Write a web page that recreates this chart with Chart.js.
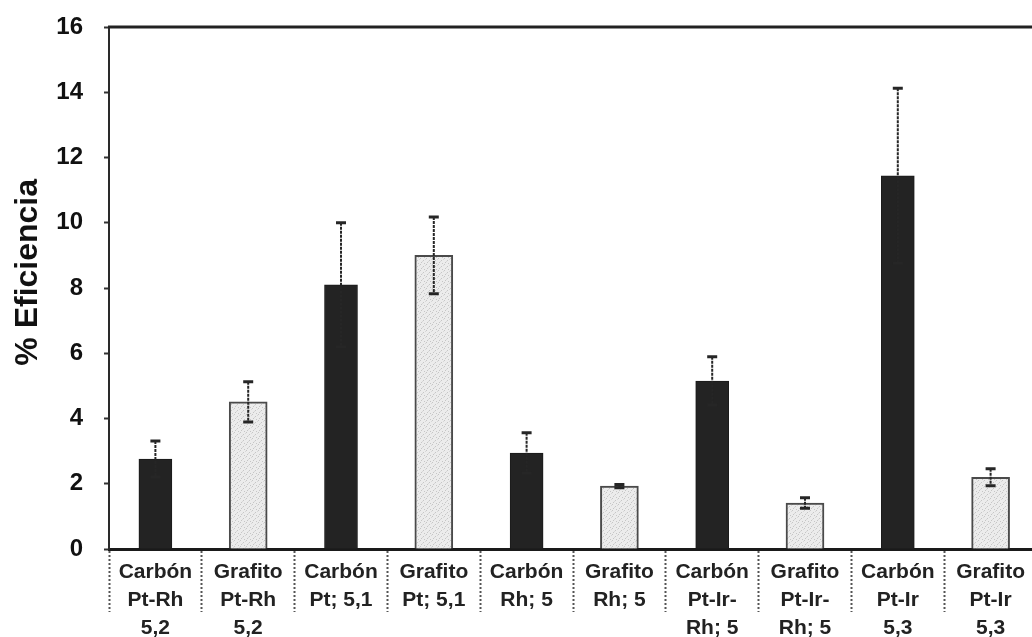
<!DOCTYPE html>
<html lang="es">
<head>
<meta charset="utf-8">
<title>% Eficiencia por soporte y catalizador</title>
<script src="https://cdn.jsdelivr.net/npm/chart.js@4.4.1/dist/chart.umd.min.js"></script>
<style>
  html, body { margin: 0; padding: 0; background: #fff; overflow: hidden; }
  #wrap { position: relative; width: 1037px; height: 637px; }
</style>
</head>
<body>
<div id="wrap"><canvas id="grafico"></canvas></div>
<script>
// Categorías del eje x (soporte / catalizador / carga)
const categorias = [
  ['Carbón', 'Pt-Rh', '5,2'],
  ['Grafito', 'Pt-Rh', '5,2'],
  ['Carbón', 'Pt; 5,1'],
  ['Grafito', 'Pt; 5,1'],
  ['Carbón', 'Rh; 5'],
  ['Grafito', 'Rh; 5'],
  ['Carbón', 'Pt-Ir-', 'Rh; 5'],
  ['Grafito', 'Pt-Ir-', 'Rh; 5'],
  ['Carbón', 'Pt-Ir', '5,3'],
  ['Grafito', 'Pt-Ir', '5,3']
];

// Soporte de cada barra
const soporte = ['Carbón', 'Grafito', 'Carbón', 'Grafito', 'Carbón',
                 'Grafito', 'Carbón', 'Grafito', 'Carbón', 'Grafito'];

// % de eficiencia medio y su desviación
const eficiencia = [2.76, 4.51, 8.10, 9.00, 2.94, 1.93, 5.15, 1.41, 11.44, 2.20];
const desviacion = [0.55, 0.62, 1.90, 1.18, 0.62, 0.05, 0.74, 0.16, 2.68, 0.26];

// Eje y
const yMin = 0, yMax = 16, yPaso = 2;
const tituloY = '% Eficiencia';

const fuente = '"Liberation Sans", Arial, Helvetica, sans-serif';

// Relleno punteado gris claro para las barras de grafito
function tramaGrafito() {
  const c = document.createElement('canvas');
  c.width = 6; c.height = 6;
  const g = c.getContext('2d');
  g.fillStyle = '#ececec';
  g.fillRect(0, 0, 6, 6);
  g.fillStyle = '#c6c6c6';
  g.fillRect(0, 0, 1, 1);
  g.fillRect(3, 2, 1, 1);
  g.fillRect(1, 4, 1, 1);
  g.fillRect(4, 5, 1, 1);
  g.fillStyle = '#d8d8d8';
  g.fillRect(5, 1, 1, 1);
  g.fillRect(2, 3, 1, 1);
  return g.createPattern(c, 'repeat');
}

const soloDe = s => eficiencia.map((v, i) => soporte[i] === s ? v : null);

// Barras de error (media ± desviación)
const barrasError = {
  id: 'barrasError',
  afterDatasetsDraw(chart) {
    const ctx = chart.ctx;
    const xs = chart.scales.x, ys = chart.scales.y;
    ctx.save();
    eficiencia.forEach((v, i) => {
      const d = desviacion[i];
      const x = xs.getPixelForValue(i);
      const yAlto = ys.getPixelForValue(v + d);
      const yBajo = ys.getPixelForValue(Math.max(0, v - d));
      ctx.strokeStyle = '#262626';
      ctx.lineWidth = 2;
      ctx.setLineDash([3, 1]);
      ctx.beginPath();
      ctx.moveTo(x, yAlto);
      ctx.lineTo(x, yBajo);
      ctx.stroke();
      ctx.setLineDash([]);
      ctx.lineWidth = 3;
      ctx.beginPath();
      ctx.moveTo(x - 5, yAlto); ctx.lineTo(x + 5, yAlto);
      ctx.moveTo(x - 5, yBajo); ctx.lineTo(x + 5, yBajo);
      ctx.stroke();
    });
    ctx.restore();
  }
};

// Línea superior del marco y título vertical del eje y
const marcoYTitulo = {
  id: 'marcoYTitulo',
  afterDraw(chart) {
    const { ctx, chartArea } = chart;
    ctx.save();
    ctx.strokeStyle = '#222';
    ctx.lineWidth = 3;
    ctx.beginPath();
    ctx.moveTo(chartArea.left - 1, chartArea.top);
    ctx.lineTo(chartArea.right, chartArea.top);
    ctx.stroke();

    ctx.translate(28, chartArea.top + (chartArea.bottom - chartArea.top) * 0.47);
    ctx.rotate(-Math.PI / 2);
    ctx.fillStyle = '#111';
    ctx.font = 'bold 32px ' + fuente;
    ctx.textAlign = 'center';
    ctx.textBaseline = 'middle';
    ctx.fillText(tituloY, 0, 0);
    ctx.restore();
  }
};

new Chart(document.getElementById('grafico'), {
  type: 'bar',
  data: {
    labels: categorias,
    datasets: [
      {
        label: 'Carbón',
        data: soloDe('Carbón'),
        backgroundColor: '#232323',
        borderColor: '#1a1a1a',
        borderWidth: 1,
        barThickness: 33,
        grouped: false
      },
      {
        label: 'Grafito',
        data: soloDe('Grafito'),
        backgroundColor: tramaGrafito(),
        borderColor: '#4a4a4a',
        borderWidth: 2,
        barThickness: 38,
        grouped: false
      }
    ]
  },
  options: {
    responsive: true,
    maintainAspectRatio: false,
    animation: false,
    layout: { padding: { top: 27, right: 0, bottom: 0, left: 0 } },
    plugins: {
      legend: { display: false },
      tooltip: { enabled: false }
    },
    scales: {
      x: {
        offset: true,
        grid: {
          display: true,
          offset: true,
          drawOnChartArea: false,
          drawTicks: true,
          tickLength: 63,
          tickColor: '#555',
          tickWidth: 2,
          tickBorderDash: [2, 2]
        },
        border: { display: true, color: '#1a1a1a', width: 3 },
        ticks: {
          color: '#222',
          font: { family: fuente, size: 21, weight: 'bold', lineHeight: 1.34 },
          padding: -54,
          maxRotation: 0,
          minRotation: 0,
          autoSkip: false
        },
        afterFit(scale) { scale.height = 88; }
      },
      y: {
        min: yMin,
        max: yMax,
        ticks: {
          stepSize: yPaso,
          color: '#111',
          font: { family: fuente, size: 24, weight: 'bold' },
          padding: 21
        },
        grid: {
          drawOnChartArea: false,
          tickLength: 5,
          tickColor: '#333',
          tickWidth: 2
        },
        border: { display: true, color: '#2a2a2a', width: 2 },
        title: { display: false },
        afterFit(scale) {
          scale.width = 109;
          scale.paddingTop = 0;
          scale.paddingBottom = 0;
        }
      }
    }
  },
  plugins: [barrasError, marcoYTitulo]
});
</script>
</body>
</html>
